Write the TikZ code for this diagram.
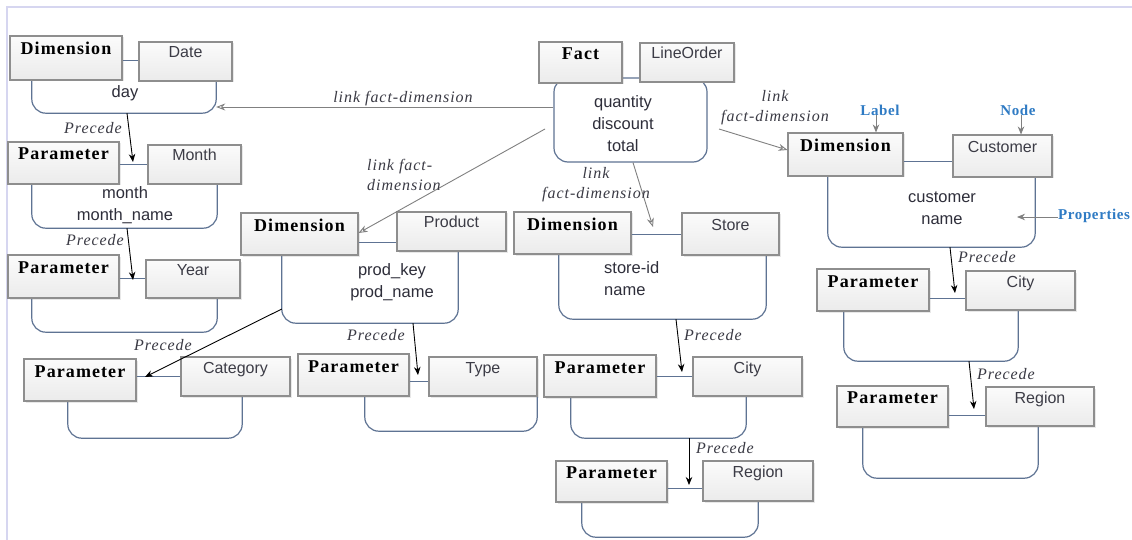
\documentclass[tikz,border=0pt]{standalone}
\usepackage{fontspec}
\setsansfont{Liberation Sans}
\newfontfamily\tagfam[LetterSpace=6]{Liberation Serif}
\newfontfamily\notefam[LetterSpace=6]{Liberation Serif}
\newfontfamily\bluefam[LetterSpace=4]{Liberation Serif}
\usetikzlibrary{arrows.meta,shadows}

\definecolor{boxline}{HTML}{8E8E8E}
\definecolor{contline}{HTML}{5E7393}
\definecolor{bodytext}{HTML}{2E2E3A}
\definecolor{nametext}{HTML}{3C3C46}
\definecolor{notetext}{HTML}{3A3A44}
\definecolor{linkgray}{HTML}{808080}
\definecolor{annblue}{HTML}{2F7BC4}
\definecolor{pageedge}{HTML}{D6D6F0}
\definecolor{boxbottom}{HTML}{EBEBEB}
\definecolor{boxtop}{HTML}{FBFBFB}

% open-topped container: two sides and a rounded bottom
\newcommand\drawopen[1]{\draw[cont] (#1.north west) -- (#1.south west) -- (#1.south east) -- (#1.north east);}

\tikzset{
  x=1pt, y=-1pt,
  every node/.style={inner sep=0pt},
  boxlook/.style={draw=boxline, line width=1.1pt, top color=boxtop, bottom color=boxbottom,
    drop shadow={shadow xshift=1.5pt, shadow yshift=-1.5pt, opacity=0.18}},
  tagbox/.style={boxlook, text height=12pt, text depth=18pt,
    font=\tagfam\bfseries\fontsize{18}{20}\selectfont},
  namebox/.style={boxlook, text height=12pt, text depth=19pt, text=nametext,
    font=\sffamily\fontsize{16}{19}\selectfont},
  frame/.style={},
  cont/.style={draw=contline, line width=1.2pt, rounded corners=14pt},
  joint/.style={draw=contline, line width=1pt},
  body/.style={align=center, text=bodytext, font=\sffamily\fontsize{16.5}{22}\selectfont},
  precede/.style={-{Stealth[length=8pt,width=6.5pt]}, line width=0.9pt, black},
  flink/.style={-{Stealth[length=9pt,width=7pt,open]}, line width=0.9pt, linkgray},
  note/.style={text=notetext, font=\notefam\itshape\fontsize{16}{20}\selectfont},
  ann/.style={text=annblue, font=\bluefam\bfseries\fontsize{15}{17}\selectfont},
  annarrow/.style={-{Stealth[length=8pt,width=6.5pt]}, line width=0.9pt, linkgray},
}

\begin{document}
\begin{tikzpicture}
\useasboundingbox (0,0) rectangle (1132,540);
\fill[white] (0,0) rectangle (1132,540);
\draw[pageedge, line width=1.2pt] (7,540) -- (7,7) -- (1132,7);

% ---------- containers (drawn first, boxes sit on their tops) ----------
\node[frame, minimum width=184, minimum height=35] (c1) at (124,95.5) {};
\node[frame, minimum width=185, minimum height=48] (c2) at (124.5,204) {};
\node[frame, minimum width=185, minimum height=38] (c3) at (124.5,313) {};
\node[frame, minimum width=174, minimum height=46] (c4) at (155,415) {};
\node[frame, minimum width=176, minimum height=75] (c5) at (370,285.5) {};
\node[frame, minimum width=172, minimum height=39] (c6) at (451,411.5) {};
\node[frame, minimum width=207, minimum height=69] (c8) at (662.5,284.5) {};
\node[frame, minimum width=175, minimum height=46] (c9) at (658.5,415) {};
\node[frame, minimum width=176, minimum height=39] (c10) at (670,517.5) {};
\node[frame, minimum width=207, minimum height=75] (c11) at (931.5,209.5) {};
\node[frame, minimum width=174, minimum height=55] (c12) at (931,333.5) {};
\node[frame, minimum width=175, minimum height=56] (c13) at (950.5,450) {};
\foreach \c in {c1,c2,c3,c4,c5,c6,c8,c9,c10,c11,c12,c13} {\drawopen{\c}}

% fact container is closed
\node[draw=contline, line width=1.2pt, fill=white, rounded corners=14pt,
      minimum width=153, minimum height=84] (c7) at (630.5,120) {};

% ---------- container contents ----------
\node[body] (t1) at (125,93) {day};
\node[body] (t2) at (125,205) {month\\month\_name};
\node[body] (t5) at (392,282.5) {prod\_key\\prod\_name};
\node[body] (t7) at (623,123.5) {quantity\\discount\\total};
\node[body, align=left, anchor=west] (t8) at (604,279) {store-id\\name};
\node[body] (t11) at (942,208) {customer\\name};

% ---------- element boxes ----------
\node[tagbox, minimum width=112, minimum height=44] (d1) at (66,58) {Dimension};
\node[namebox, minimum width=93, minimum height=39] (n1) at (185.5,61.5) {Date};
\node[tagbox, minimum width=111, minimum height=42] (p2) at (63.5,163) {Parameter};
\node[namebox, minimum width=93, minimum height=39] (n2) at (194.5,164.5) {Month};
\node[tagbox, minimum width=111, minimum height=43] (p3) at (63.5,276.5) {Parameter};
\node[namebox, minimum width=94, minimum height=38] (n3) at (193,279) {Year};
\node[tagbox, minimum width=112, minimum height=42] (p4) at (80,380) {Parameter};
\node[namebox, minimum width=109, minimum height=39] (n4) at (235.5,376.5) {Category};
\node[tagbox, minimum width=117, minimum height=42] (d5) at (299.5,234) {Dimension};
\node[namebox, minimum width=109, minimum height=39] (n5) at (451.5,231.5) {Product};
\node[tagbox, minimum width=111, minimum height=42] (p6) at (353.5,375) {Parameter};
\node[namebox, minimum width=108, minimum height=39] (n6) at (483,376.5) {Type};
\node[tagbox, minimum width=83, minimum height=41] (f7) at (580.5,62.5) {Fact};
\node[namebox, minimum width=94, minimum height=39] (n7) at (687,62.5) {LineOrder};
\node[tagbox, minimum width=117, minimum height=42] (d8) at (572.5,233) {Dimension};
\node[namebox, minimum width=97, minimum height=42] (n8) at (730.5,234) {Store};
\node[tagbox, minimum width=112, minimum height=42] (p9) at (600,376) {Parameter};
\node[namebox, minimum width=109, minimum height=39] (n9) at (747.5,376.5) {City};
\node[tagbox, minimum width=111, minimum height=41] (p10) at (611.5,481.5) {Parameter};
\node[namebox, minimum width=110, minimum height=40] (n10) at (758,481) {Region};
\node[tagbox, minimum width=115, minimum height=43] (d11) at (845.5,154.5) {Dimension};
\node[namebox, minimum width=99, minimum height=42] (n11) at (1002.5,156) {Customer};
\node[tagbox, minimum width=112, minimum height=42] (p12) at (873,290) {Parameter};
\node[namebox, minimum width=109, minimum height=39] (n12) at (1020.5,290.5) {City};
\node[tagbox, minimum width=111, minimum height=41] (p13) at (892.5,406.5) {Parameter};
\node[namebox, minimum width=108, minimum height=39] (n13) at (1040,406.5) {Region};

% ---------- joints between the two boxes of each element ----------
\draw[joint] (d1.east |- 0,61)   -- (n1.west |- 0,61);
\draw[joint] (p2.east |- 0,165)  -- (n2.west |- 0,165);
\draw[joint] (p3.east |- 0,278)  -- (n3.west |- 0,278);
\draw[joint] (p4.east |- 0,376)  -- (n4.west |- 0,376);
\draw[joint] (d5.east |- 0,242)  -- (n5.west |- 0,242);
\draw[joint] (p6.east |- 0,381)  -- (n6.west |- 0,381);
\draw[joint] (d8.east |- 0,234)  -- (n8.west |- 0,234);
\draw[joint] (p9.east |- 0,376)  -- (n9.west |- 0,376);
\draw[joint] (p10.east |- 0,488) -- (n10.west |- 0,488);
\draw[joint] (d11.east |- 0,162) -- (n11.west |- 0,162);
\draw[joint] (p12.east |- 0,298) -- (n12.west |- 0,298);
\draw[joint] (p13.east |- 0,415) -- (n13.west |- 0,415);

% ---------- precede arrows ----------
\coordinate (q2) at (133,162);
\coordinate (q3) at (133,280);
\coordinate (q4) at (145,377);
\coordinate (q6) at (418,375);
\coordinate (q9) at (682,372);
\coordinate (q10) at (689,485);
\coordinate (q12) at (955,293);
\coordinate (q13) at (974,409);
\draw[precede] (c1.south -| 127,0) -- (q2);
\draw[precede] (c2.south -| 127,0) -- (q3);
\draw[precede] (c5.west |- 0,309) -- (q4);
\draw[precede] (c5.south -| 413,0) -- (q6);
\draw[precede] (c8.south -| 676,0) -- (q9);
\draw[precede] (c9.south -| 689,0) -- (q10);
\draw[precede] (c11.south -| 950,0) -- (q12);
\draw[precede] (c12.south -| 969,0) -- (q13);

\node[note] (r2) at (93,128) {Precede};
\node[note] (r3) at (95,240) {Precede};
\node[note] (r4) at (163,345) {Precede};
\node[note] (r6) at (376,335) {Precede};
\node[note] (r9) at (713,335) {Precede};
\node[note] (r10) at (725,448) {Precede};
\node[note] (r12) at (987,257) {Precede};
\node[note] (r13) at (1006,374) {Precede};

% ---------- fact-dimension links ----------
\coordinate (s5) at (545,129);
\coordinate (s11) at (719,129);
\coordinate (e8) at (653,227);
\draw[flink] (c7.west |- 0,107) -- (c1.east |- 0,107);
\draw[flink] (s5) -- (d5.east |- 0,233);
\draw[flink] (c7.south -| 633,0) -- (e8);
\draw[flink] (s11) -- (d11.west |- 0,150);

\node[note] (l1) at (403,99) {link fact-dimension};
\node[note, align=left, anchor=west] (l5) at (367,175) {link fact-\\dimension};
\node[note, align=center] (l8) at (596,185) {link\\fact-dimension};
\node[note, align=center] (l11) at (775,108) {link\\fact-dimension};

% ---------- annotations ----------
\node[ann] (aLabel) at (880,110) {Label};
\node[ann] (aNode) at (1018,110) {Node};
\node[ann, anchor=west] (aProp) at (1058,216) {Properties};
\draw[annarrow] (aLabel.south -| 876,0) -- (d11.north -| 876,0);
\draw[annarrow] (aNode.south -| 1021,0) -- (n11.north -| 1021,0);
\draw[annarrow] (aProp.west |- 0,217) -- (1017,217);
\end{tikzpicture}
\end{document}
